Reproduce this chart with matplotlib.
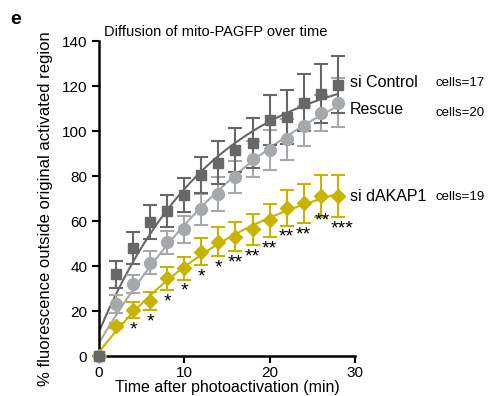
import numpy as np
import matplotlib
matplotlib.use("Agg")
import matplotlib.pyplot as plt

plt.rcParams['font.family'] = ['Liberation Sans', 'DejaVu Sans']

# data
time = [0, 2, 4, 6, 8, 10, 12, 14, 16, 18, 20, 22, 24, 26, 28]
ctrl_mean = [0, 36.4, 48, 59.5, 64.5, 71.6, 80.4, 86, 91.5, 94.8, 104.9, 106.4, 112.6, 116.7, 120.7]
ctrl_err = [0, 6, 7, 7.5, 7, 7.4, 8, 9.5, 9.7, 11, 11, 12, 12.7, 13, 12.6]
resc_mean = [0, 23.1, 32, 41.5, 50.5, 56.3, 65.2, 72, 79.7, 87.4, 91.5, 96.3, 102.2, 108.1, 112.7]
resc_err = [0, 4, 4, 5, 5, 6, 7, 7.5, 7, 8, 9, 9, 9, 8, 11]
akap_mean = [0, 13.5, 20.4, 24.4, 34.5, 39, 46.4, 50.8, 53, 56.3, 60.4, 66, 67.9, 71.1, 71.1]
akap_err = [0, 1, 3.5, 4, 5, 5, 6, 6.5, 6.5, 7, 7.3, 8, 8.6, 9.3, 9.3]
stars = ["", "", "*", "*", "*", "*", "*", "*", "**", "**", "**", "**", "**", "**", "***"]

names = ["si Control", "Rescue", "si dAKAP1"]
cells = ["cells=17", "cells=20", "cells=19"]

c_ctrl = "#676767"
c_resc = "#a6a9ac"
c_akap = "#c8b400"


def fit_curve(t, y):
    # one-phase association y = c + A(1-exp(-k t)), grid over k
    t = np.asarray(t, float)
    y = np.asarray(y, float)
    best = None
    for k in np.linspace(0.005, 0.3, 600):
        X = np.column_stack([np.ones_like(t), 1 - np.exp(-k * t)])
        coef, res, *_ = np.linalg.lstsq(X, y, rcond=None)
        r = np.sum((X @ coef - y) ** 2)
        if best is None or r < best[0]:
            best = (r, k, coef)
    _, k, coef = best
    tt = np.linspace(0, t.max(), 200)
    return tt, coef[0] + coef[1] * (1 - np.exp(-k * tt))


fig = plt.figure(figsize=(4.93, 3.96), dpi=100)
ax = fig.add_axes([0.2008, 0.101, 0.519, 0.795])

t = np.array(time)
series = [
    (akap_mean, akap_err, c_akap, "D", 7),
    (resc_mean, resc_err, c_resc, "o", 8.5),
    (ctrl_mean, ctrl_err, c_ctrl, "s", 7.5),
]
for m, e, col, mk, ms in series:
    tt, yy = fit_curve(t, m)
    ax.plot(tt, yy, color=col, lw=1.5, zorder=2)
    ax.errorbar(t, m, yerr=e, fmt=mk, color=col, ms=ms, capsize=5, elinewidth=1.5,
                capthick=1.5, mec=col, zorder=3, clip_on=False)

n = len(time)
for i, (ti, m, e, s) in enumerate(zip(time, akap_mean, akap_err, stars)):
    if not s:
        continue
    x, y = ti, m - e - 1.5
    if i == n - 2:      # raised to make room for the last group
        x, y = ti + 0.2, m - e + 2
    elif i == n - 1:
        x = ti + 0.5
    ax.text(x, y, s, ha="center", va="top", fontsize=14, color="black", clip_on=False)

ax.set_xlim(0, 30)
ax.set_ylim(0, 140)
ax.set_xticks([0, 10, 20, 30])
ax.set_yticks(range(0, 141, 20))
ax.tick_params(width=1.5, length=5, labelsize=11)
ax.tick_params(axis="x", pad=2)
for sp in ["top", "right"]:
    ax.spines[sp].set_visible(False)
for sp in ["left", "bottom"]:
    ax.spines[sp].set_linewidth(1.8)

ax.set_xlabel("Time after photoactivation (min)", fontsize=11.5, labelpad=0)
ax.set_ylabel("% fluorescence outside original activated region", fontsize=12)
ax.yaxis.set_label_coords(-0.18, 0.467)
ax.set_title("Diffusion of mito-PAGFP over time", fontsize=10.5, loc="left", x=0.02, pad=4)

# series labels on the right
lab_y = [ctrl_mean[-1] + 1, resc_mean[-1] - 3, akap_mean[-1]]
cell_y = [ctrl_mean[-1] + 0.5, resc_mean[-1] - 4.5, akap_mean[-1] - 0.5]
for nm, c, yv, yc in zip(names, cells, lab_y, cell_y):
    ax.text(29.4, yv, nm, fontsize=11.5, va="center", ha="left", clip_on=False)
    ax.text(39.4, yc, c, fontsize=9.5, va="center", ha="left", clip_on=False)

fig.text(0.02, 0.972, "e", fontsize=14, fontweight="bold", va="top")

fig.savefig("out.png", dpi=100)
